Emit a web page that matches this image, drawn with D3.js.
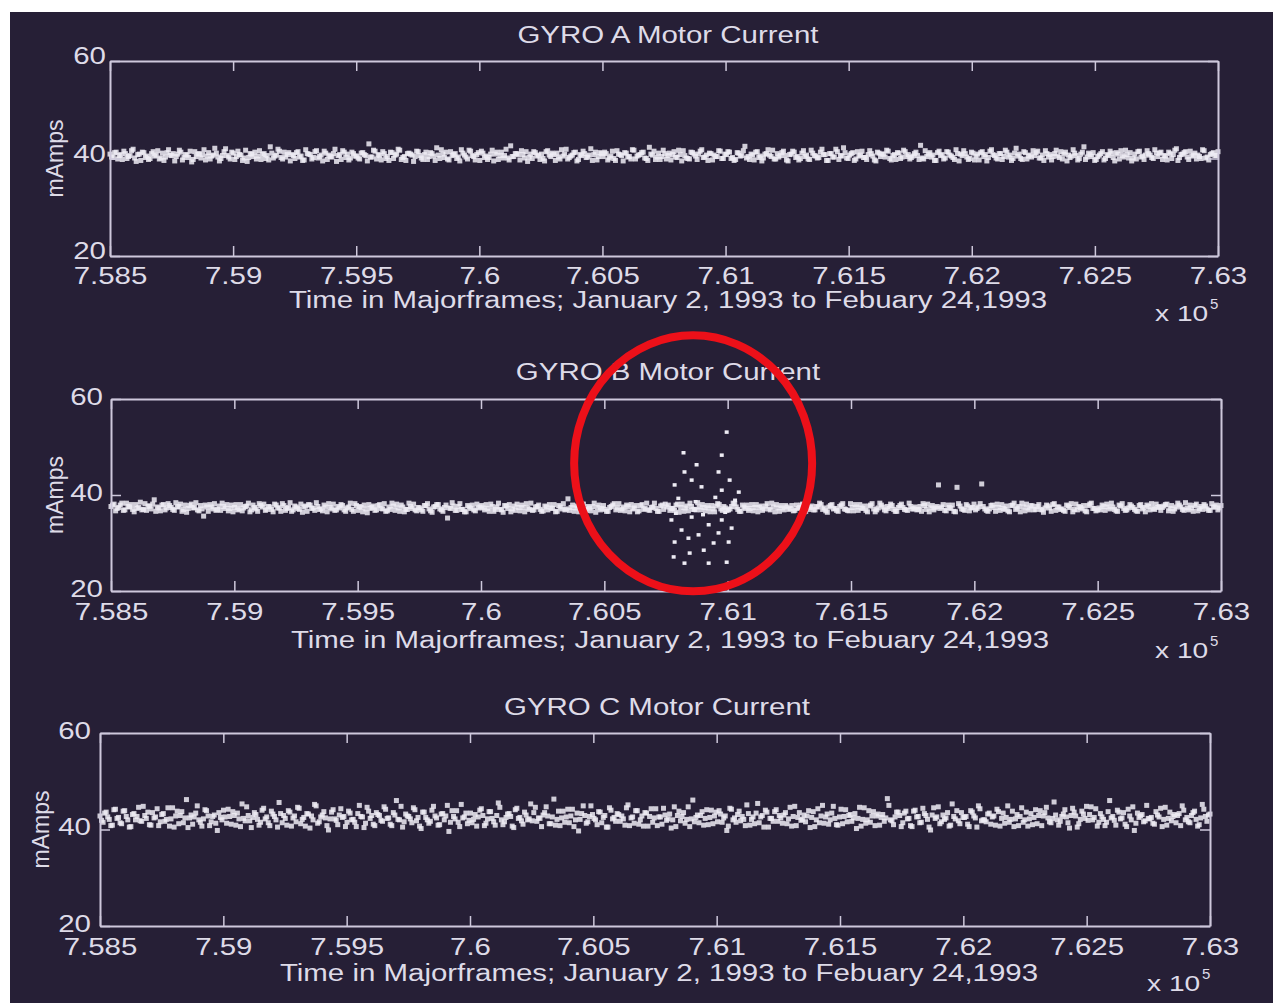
<!DOCTYPE html>
<html>
<head>
<meta charset="utf-8">
<script src="https://cdn.jsdelivr.net/npm/d3@7"></script>
<style>
  html, body { margin: 0; padding: 0; background: #ffffff; }
  svg { display: block; }
</style>
</head>
<body>
<svg id="chart" width="1284" height="1003"></svg>
<script>
// ---- data -------------------------------------------------------------
const titles = ["GYRO A Motor Current", "GYRO B Motor Current", "GYRO C Motor Current"];
const xLabel = "Time in Majorframes; January 2, 1993 to Febuary 24,1993";
const yLabel = "mAmps";
const xTicks = [7.585, 7.59, 7.595, 7.6, 7.605, 7.61, 7.615, 7.62, 7.625, 7.63];
const xTickLabels = ["7.585", "7.59", "7.595", "7.6", "7.605", "7.61", "7.615", "7.62", "7.625", "7.63"];
const yTicks = [20, 40, 60];
const yTickLabels = ["20", "40", "60"];
const tStart = 7.585, tEnd = 7.63;   // majorframes x 10^5

// Motor current samples (mAmps). Each gyro is read twice per frame slot:
// the "...Even" and "...Odd" lists hold the alternating readings.
const gyroAEven = [
40.9,40.2,41.3,40.6,39.8,41.0,40.4,41.6,40.1,40.8,39.6,41.2,40.5,40.0,41.4,40.7,39.9,41.1,40.3,41.8,
40.6,39.5,40.9,41.3,40.2,40.7,41.5,39.8,40.4,41.0,40.8,39.7,41.2,40.5,42.1,40.3,40.0,41.4,40.6,39.9,
41.1,40.4,40.8,39.6,41.7,40.2,40.9,41.3,40.5,39.8,41.0,40.6,42.4,40.1,40.7,41.5,39.9,40.3,41.2,40.8,
40.0,41.4,40.5,39.7,41.0,40.8,40.2,41.6,40.4,39.5,41.1,40.7,40.3,41.9,40.6,39.8,41.3,40.9,40.1,41.0,
40.5,39.9,41.2,40.6,43.0,40.3,41.5,40.8,39.7,41.0,40.4,41.3,40.0,40.9,41.7,40.2,39.6,41.1,40.7,40.4,
41.4,40.1,40.8,39.8,41.2,40.5,42.2,40.0,40.9,41.3,39.7,40.6,41.0,40.3,41.8,40.7,39.9,41.5,40.4,40.8,
39.6,41.1,40.5,40.2,41.7,40.9,39.8,41.3,40.6,40.1,42.6,40.4,41.0,39.7,40.8,41.4,40.3,40.0,41.2,40.7,
40.9,39.5,41.6,40.4,40.8,41.1,39.9,40.5,41.9,40.2,40.7,41.3,39.8,40.6,41.0,40.3,42.0,40.8,39.7,41.2,
40.4,41.0,40.1,41.5,39.6,40.9,40.6,41.2,40.3,39.9,41.7,40.5,40.8,41.3,40.0,42.3,40.7,39.8,41.1,40.4,
41.0,40.6,39.7,41.4,40.2,40.8,41.6,40.1,39.9,41.2,40.5,40.9,41.8,40.3,39.6,41.0,40.7,40.4,41.5,40.0,
40.8,41.3,40.2,39.8,41.1,40.6,42.5,40.4,40.9,39.7,41.4,40.5,40.1,41.0,40.7,41.7,39.9,40.3,41.2,40.6,
39.5,40.9,41.3,40.4,40.0,41.6,40.7,39.8,41.1,40.5,40.2,41.9,40.8,39.6,41.0,40.3,41.4,40.6,42.2,40.1,
40.7,41.2,39.9,40.5,41.5,40.2,40.8,41.0,39.7,41.3,40.4,40.9,41.7,40.0,40.6,39.8,41.1,40.3,41.4,40.8,
40.2,41.0,40.6,42.7,39.9,40.4,41.2,40.7,39.6,41.5,40.8,40.1,41.3,40.5,39.8,41.0,40.9,41.6,40.3,40.0,
41.1,40.5,39.7,41.4,40.8,40.2,41.8,40.6,39.9,41.0,40.4,41.3,40.7,40.0,42.1,40.9,39.8,41.2,40.5,40.3,
40.6,41.5,40.1,39.6,41.0,40.8,40.4,41.7,40.2,39.9,41.3,40.7,40.5,41.1,39.7,40.9,42.4,40.3,40.8,41.2,
39.8,40.7,41.4,40.0,40.6,41.1,39.5,40.9,41.6,40.3,40.8,41.2,40.1,39.9,41.5,40.5,40.7,41.0,40.2,41.8,
40.4,41.3,40.6,39.7,41.0,40.8,42.0,40.2,40.9,41.4,39.8,40.5,41.1,40.7,40.0,41.6,40.3,40.8,41.2,40.6
];
const gyroAOdd = [
40.3,41.2,39.9,40.8,41.5,40.0,40.6,41.9,39.4,40.9,41.3,40.2,39.8,41.0,40.5,41.6,40.1,39.6,41.2,40.7,
41.0,40.4,41.7,39.7,40.8,40.2,39.3,41.4,40.9,40.1,41.8,40.5,39.9,40.7,41.1,39.5,40.6,42.0,40.3,41.3,
39.8,41.5,40.7,40.1,39.4,41.0,40.4,39.9,41.6,40.8,40.0,39.7,41.1,40.5,41.9,40.2,41.3,40.8,39.5,40.6,
41.2,40.3,39.6,41.8,40.9,39.9,41.4,40.1,40.7,41.5,39.8,40.4,41.0,39.4,40.8,41.6,40.2,39.7,41.3,40.5,
40.1,41.1,40.8,39.5,40.3,41.7,39.9,40.6,41.4,40.0,39.6,41.2,40.7,41.9,39.8,40.4,41.0,40.9,39.4,41.5,
40.6,39.8,41.3,40.4,41.0,39.6,40.7,41.8,40.2,39.9,41.4,40.8,40.0,39.5,41.1,40.3,41.7,40.6,39.7,41.2,
41.5,40.2,39.8,40.9,39.5,41.3,40.6,40.1,41.9,39.7,40.4,41.0,40.8,41.6,40.1,39.4,40.9,41.4,40.5,39.8,
40.0,41.4,40.7,41.1,39.6,40.3,41.8,40.9,39.9,40.5,41.2,39.5,40.8,41.5,40.2,40.7,39.6,41.3,40.4,41.0,
41.3,39.7,40.5,40.0,41.6,40.8,39.5,41.1,40.4,41.8,39.9,40.7,41.2,40.1,39.6,40.9,41.5,40.3,39.8,41.7,
39.9,41.1,40.8,40.3,41.7,39.5,40.6,40.0,41.3,40.9,39.8,41.5,40.2,40.7,41.1,39.7,40.4,41.6,40.0,40.9,
41.4,40.0,39.6,41.2,40.5,41.6,40.1,39.8,40.7,41.3,40.2,39.5,40.9,41.8,40.4,39.9,41.0,40.6,41.5,39.7,
40.8,41.5,40.2,39.7,41.1,40.4,39.9,41.7,40.6,40.1,41.3,40.8,39.6,41.0,40.3,41.9,39.8,40.5,41.2,40.0,
41.0,39.6,41.4,40.7,40.2,39.8,41.6,40.5,39.5,41.1,40.9,40.3,41.5,39.7,40.8,41.2,40.0,41.7,40.4,39.9,
40.5,41.3,39.8,40.1,41.6,40.9,40.3,39.6,41.2,40.6,39.9,41.4,40.7,40.2,41.8,39.5,40.6,41.0,39.8,41.3,
39.7,40.9,41.2,40.4,39.5,41.5,40.8,40.1,41.0,39.8,41.7,40.3,39.6,41.1,40.5,40.0,41.4,39.9,40.7,41.6,
41.2,40.1,40.7,41.6,40.3,39.7,41.0,40.5,41.4,40.9,39.5,40.2,41.8,40.6,40.0,41.3,39.8,41.1,40.4,39.6,
40.4,41.0,39.7,40.8,41.5,40.2,41.2,39.9,40.6,41.7,40.1,39.5,40.9,41.4,40.3,39.8,41.6,40.7,40.0,41.1,
41.1,39.8,40.5,41.3,40.0,41.7,39.6,40.8,41.2,40.3,41.5,40.7,39.9,40.4,41.8,40.1,39.7,41.0,40.6,41.4
];

const gyroBEven = [
37.6,38.1,37.2,37.9,36.8,38.3,37.5,37.0,38.0,37.4,36.9,38.2,37.7,37.1,39.0,37.5,36.7,38.0,37.3,37.8,
37.0,38.4,37.6,36.6,37.9,37.2,38.1,37.4,36.9,37.8,35.6,37.5,38.0,37.1,36.8,37.7,38.3,37.2,36.7,37.9,
37.4,36.9,38.0,37.3,37.7,36.5,37.9,37.1,38.2,37.5,36.8,37.6,37.0,38.1,37.3,36.6,37.8,37.2,38.4,36.9,
37.5,37.0,36.4,37.7,38.0,37.2,36.8,37.6,37.1,37.9,36.5,37.4,38.1,36.9,37.3,37.8,36.6,37.5,37.0,38.2,
36.8,37.4,37.9,36.3,37.2,37.7,36.9,38.0,37.1,36.6,37.5,38.3,36.8,37.3,37.9,36.5,37.0,37.6,38.1,36.7,
37.3,36.6,37.8,37.1,36.4,37.6,38.0,36.9,37.4,35.2,37.2,37.7,36.8,38.2,37.0,36.5,37.5,37.9,36.7,37.3,
37.8,36.9,37.2,38.1,36.6,37.5,37.0,36.4,37.7,38.0,37.1,36.8,37.4,37.9,36.5,37.3,38.3,36.9,37.6,37.0,
36.7,37.5,38.0,37.2,36.5,37.8,37.1,36.9,39.2,37.4,36.6,37.7,37.0,38.1,36.8,37.3,37.6,36.4,37.9,37.2,
37.0,36.6,37.6,38.2,37.3,36.8,37.5,37.9,36.5,37.1,37.8,36.7,38.0,37.2,36.9,37.4,38.3,36.6,37.7,37.0,
37.5,36.8,37.2,37.9,36.4,38.1,37.3,36.7,37.6,37.0,38.4,36.9,37.4,37.8,36.5,37.1,37.7,38.0,36.8,37.3,
36.9,37.6,38.2,37.0,36.6,37.5,37.9,37.2,36.7,38.0,37.4,36.8,37.7,37.1,38.3,36.5,37.3,37.8,36.9,37.5,
37.2,36.7,37.9,37.4,38.1,36.6,37.0,37.7,36.9,37.5,38.0,37.3,36.4,37.8,37.1,36.8,37.6,38.2,37.0,36.7,
37.4,38.0,36.8,37.3,37.7,36.5,37.9,37.1,36.9,38.3,37.5,36.7,37.2,37.8,36.6,37.4,38.1,37.0,36.8,37.6,
37.1,36.9,37.6,38.2,37.0,36.5,37.8,37.3,42.1,37.5,36.8,37.9,37.2,36.6,41.6,37.7,37.0,38.0,36.7,37.4,
36.9,37.5,42.3,37.1,36.6,37.8,37.4,38.1,36.8,37.2,37.7,36.5,37.9,37.0,37.6,38.3,36.7,37.3,37.8,36.9,
37.6,37.0,36.4,37.9,37.3,38.0,36.8,37.5,37.1,36.6,37.7,38.2,37.0,36.9,37.4,37.8,36.5,38.1,37.2,36.7,
37.3,37.9,36.8,37.5,38.3,37.0,36.6,37.7,37.2,36.9,38.0,37.4,36.7,37.8,37.1,36.5,37.6,38.2,37.0,37.4,
36.8,37.7,38.1,37.2,36.6,37.5,37.9,37.0,38.4,36.9,37.3,37.8,36.7,37.6,38.0,37.1,36.8,37.5,37.9,37.3
];
const gyroBOdd = [
37.9,36.7,37.4,38.3,36.9,37.6,38.0,36.5,37.2,38.5,37.0,36.8,37.7,38.1,36.6,37.3,37.9,36.9,38.2,37.4,
36.8,37.5,38.1,37.0,36.4,37.8,37.3,38.4,36.7,37.1,37.9,36.6,37.5,38.2,37.0,36.8,37.6,38.0,37.2,36.5,
38.0,37.1,36.7,37.6,38.3,36.9,37.4,36.6,37.8,38.1,37.0,37.5,36.5,37.9,37.3,38.2,36.8,37.4,36.6,37.7,
37.2,38.1,37.5,36.6,37.9,37.3,38.4,37.0,36.7,37.5,38.2,37.1,36.8,37.6,38.0,36.9,37.3,38.3,36.6,37.8,
37.6,36.5,37.1,38.0,37.4,36.8,37.8,37.2,38.2,36.7,37.0,37.7,38.1,36.6,37.5,37.0,38.3,37.2,36.9,37.4,
36.9,37.8,38.2,36.7,37.5,38.0,37.1,36.6,37.9,37.3,38.4,36.8,37.6,37.0,36.5,37.8,37.2,36.9,38.1,37.5,
37.3,38.0,36.6,37.6,37.0,38.3,36.9,37.8,37.2,36.5,37.7,38.1,36.7,37.4,38.2,37.0,36.8,37.5,37.9,36.6,
37.7,36.9,37.3,38.0,36.6,37.5,38.2,37.1,36.8,37.9,37.3,36.5,38.1,37.0,37.6,36.7,38.3,37.4,36.9,37.8,
36.6,37.4,37.9,36.9,38.2,37.1,36.7,37.6,38.0,37.3,36.5,37.8,37.0,38.3,36.8,37.5,37.2,36.6,37.9,38.1,
37.9,37.2,36.8,38.1,37.4,36.6,37.7,38.3,37.0,36.9,37.5,38.0,36.7,37.3,37.8,36.5,38.2,37.1,37.6,36.8,
37.1,38.3,37.5,36.6,37.9,37.2,36.8,38.0,37.4,36.5,37.7,37.1,38.2,36.9,37.5,38.0,36.6,37.3,37.8,37.0,
37.8,36.8,37.2,37.9,36.5,38.1,37.4,36.9,37.6,38.3,37.0,36.7,37.5,38.0,37.2,36.6,37.9,37.1,36.8,38.2,
36.7,37.5,38.0,37.2,36.8,37.7,38.2,36.5,37.3,37.9,36.9,37.6,38.1,37.0,36.6,37.8,37.4,36.9,38.3,37.1,
37.5,37.0,36.6,37.8,38.1,37.3,36.9,37.6,37.2,38.0,36.7,37.4,37.9,36.5,38.2,37.1,36.8,37.7,37.3,38.1,
37.2,38.2,37.6,36.8,37.1,37.9,36.6,37.4,38.0,37.0,36.7,37.8,38.3,37.3,36.5,37.5,38.1,36.9,37.7,37.0,
38.0,36.9,37.3,37.7,36.6,38.2,37.5,37.0,36.8,37.9,37.4,36.5,38.1,37.6,37.1,36.7,37.8,38.3,37.2,36.9,
36.9,37.6,38.1,37.1,37.5,36.7,37.9,38.2,36.8,37.3,37.7,37.0,36.6,38.0,37.4,37.9,36.9,37.2,38.1,37.6,
37.4,38.0,36.7,37.8,37.1,38.3,37.5,36.8,37.3,37.9,36.6,38.1,37.2,37.0,37.7,36.8,38.2,37.5,36.9,37.8
];

// scattered readings of gyro B around 7.608-7.610 x 10^5
const gyroBBurstT = [
7.60996,7.60821,7.60976,7.60874,7.60963,7.60825,7.60854,7.61008,7.60785,7.60894,
7.60976,7.61045,7.60772,7.60854,7.60923,7.60976,7.60813,7.60882,7.60963,7.61016,
7.60785,7.60841,7.60943,7.61004,7.60903,7.60781,7.60846,7.60996,7.60923,7.60825,
7.60800,7.60870,7.60950,7.61030,7.60790,7.60900,7.60990
];
const gyroBBurstV = [
53.1,48.8,48.3,46.3,44.8,44.8,43.1,43.1,42.1,41.7,
41.0,40.6,34.8,35.4,33.8,34.8,32.7,31.7,32.1,33.1,
30.2,31.0,30.0,30.2,28.5,27.1,27.9,26.0,25.8,25.8,
39.3,38.6,39.5,38.9,36.2,35.9,36.4
];

const gyroCEven = [
42.8,41.5,43.6,42.1,40.9,44.2,42.5,41.2,43.9,42.0,40.6,43.3,42.7,41.8,44.8,42.3,41.0,43.5,42.6,40.8,
43.1,41.7,44.5,42.2,40.5,43.8,42.9,41.4,46.2,42.4,41.1,43.4,42.0,40.7,44.1,42.8,41.6,43.0,39.8,42.5,
44.0,41.3,42.7,43.7,40.9,42.2,45.3,41.8,42.9,40.4,43.5,42.1,41.5,44.4,42.6,40.8,43.2,42.0,45.6,41.4,
42.3,43.9,40.7,42.8,44.6,41.2,42.5,43.3,40.3,42.0,44.9,41.6,43.0,42.4,39.9,43.6,42.2,41.0,44.3,42.7,
41.5,43.4,42.1,40.6,45.0,42.6,41.3,43.8,42.9,40.8,43.1,41.9,44.7,42.3,41.1,43.5,46.0,42.0,40.5,43.2,
42.7,41.4,44.1,42.5,40.2,43.6,42.0,41.7,44.8,42.4,41.0,43.3,42.8,39.6,43.9,42.2,41.5,45.2,42.6,41.2,
43.4,42.1,40.7,44.0,42.9,41.3,43.7,42.3,40.9,45.5,42.0,41.6,43.2,42.7,40.4,44.4,42.5,41.1,43.0,42.2,
41.8,44.6,42.4,40.6,43.5,42.8,41.2,46.3,42.1,40.8,43.8,42.6,41.4,44.2,42.0,39.7,43.3,42.9,41.6,44.9,
42.3,41.0,43.6,42.5,40.5,44.5,42.2,41.7,43.1,42.8,40.9,45.1,42.4,41.3,43.9,42.0,40.7,43.4,42.7,41.5,
44.3,42.6,41.1,43.0,42.2,40.3,44.7,42.9,41.8,43.5,42.1,40.6,46.1,42.5,41.4,43.7,42.3,41.0,44.0,42.8,
41.6,43.2,42.4,39.8,44.4,42.0,41.5,43.8,42.7,40.8,43.3,42.1,41.2,45.4,42.6,40.5,43.6,42.3,41.7,44.1,
42.9,41.3,43.5,42.2,40.7,44.8,42.5,41.9,43.0,42.8,40.4,43.7,42.0,41.4,45.0,42.6,41.1,43.4,42.3,40.9,
44.2,42.7,41.6,43.1,42.4,40.2,44.6,42.1,41.3,43.9,42.8,40.8,43.2,42.5,41.7,46.4,42.0,41.0,43.6,42.9,
41.4,43.8,42.3,40.6,44.0,42.7,41.5,43.3,42.1,39.9,44.5,42.6,41.2,43.0,42.4,40.7,45.3,42.2,41.8,43.5,
42.5,41.1,43.9,42.8,40.5,44.3,42.0,41.6,43.4,42.6,40.9,43.7,42.3,41.3,44.9,42.1,40.6,43.1,42.7,41.5,
43.6,42.2,41.0,44.1,42.9,40.8,43.5,42.4,41.4,45.7,42.0,41.7,43.2,42.6,40.3,44.4,42.8,41.2,43.8,42.3,
41.9,44.7,42.5,40.7,43.3,42.1,41.5,46.0,42.7,40.9,43.6,42.4,41.1,44.2,42.0,39.8,43.4,42.8,41.6,45.0,
42.2,41.3,43.7,42.6,40.6,44.6,42.3,41.8,43.1,42.9,40.8,44.0,42.5,41.4,43.5,42.1,41.0,45.2,42.7,43.0
];
const gyroCOdd = [
41.9,43.4,42.6,40.8,44.1,42.3,41.4,43.8,42.7,40.5,43.1,42.0,44.6,41.7,42.9,43.6,40.9,42.4,44.3,41.6,
43.3,42.1,40.7,44.5,42.8,41.2,43.7,42.4,40.4,43.0,42.6,44.9,41.5,42.2,43.9,40.8,42.7,41.3,43.5,42.0,
42.6,44.2,41.1,42.9,43.4,40.6,42.3,44.7,41.8,42.5,43.1,40.9,44.0,42.2,41.4,43.8,42.7,40.5,43.3,42.9,
40.9,43.6,42.4,41.6,44.4,42.1,40.7,43.2,42.8,45.2,41.3,42.6,43.7,40.8,42.2,44.1,41.9,43.0,42.5,40.6,
43.8,42.0,41.5,43.3,42.7,40.4,44.6,42.3,41.1,43.5,42.9,41.7,44.2,42.4,40.8,43.0,42.1,44.8,41.6,42.8,
42.2,44.5,41.8,40.7,43.6,42.5,41.3,44.0,42.8,40.9,43.2,42.0,45.0,41.5,42.7,43.9,40.6,42.4,43.4,41.9,
41.4,43.1,42.6,44.3,40.8,42.2,43.7,41.6,42.9,44.6,41.0,42.5,43.3,40.7,44.1,42.3,41.8,43.6,42.0,45.3,
43.5,41.7,42.3,43.0,44.7,41.2,42.6,40.9,43.8,42.4,41.5,44.2,42.8,40.6,43.4,42.1,44.9,41.3,42.7,43.1,
42.0,43.7,41.4,42.9,40.5,44.0,42.5,43.3,41.7,42.2,44.5,40.8,42.6,43.9,41.1,42.8,43.5,40.7,44.3,42.4,
40.8,42.6,44.4,41.9,43.2,42.0,40.6,43.8,42.7,41.3,44.7,42.2,41.6,43.0,42.9,40.9,44.1,42.5,41.2,43.6,
43.9,41.5,42.8,40.7,44.2,42.4,43.1,41.8,42.1,45.1,40.9,42.6,43.4,41.4,42.9,44.0,40.5,42.3,43.7,41.7,
42.4,43.0,41.2,44.6,42.7,40.8,43.5,42.1,41.6,43.9,42.5,40.6,44.3,42.8,41.3,43.2,42.0,44.8,41.0,42.6,
41.2,44.1,42.9,41.7,43.3,42.3,40.7,44.5,42.0,41.5,43.7,42.8,40.9,43.1,42.4,45.0,41.8,42.6,43.6,40.6,
43.4,42.2,40.8,43.8,42.6,41.4,44.4,42.9,40.5,43.0,42.3,44.7,41.6,42.1,43.5,40.9,42.7,43.9,41.2,42.5,
42.7,40.6,43.6,42.4,44.9,41.8,42.0,43.2,41.1,42.8,44.2,40.7,43.4,42.5,41.5,43.8,42.2,40.8,44.5,42.0,
40.7,43.3,42.5,41.2,43.9,42.8,44.6,41.6,42.3,43.0,40.9,42.7,44.1,41.4,42.9,43.6,40.5,42.1,43.2,44.8,
43.1,42.0,44.3,41.5,42.6,40.8,43.7,42.4,41.9,44.0,42.2,43.5,40.6,42.8,44.7,41.3,42.5,43.1,41.8,42.3,
42.5,41.1,43.0,44.4,42.1,40.9,43.6,42.7,41.4,43.3,44.9,42.0,41.6,42.9,43.8,40.7,42.4,44.2,41.7,43.2
];

// ---- drawing ----------------------------------------------------------
const FONT = "'Liberation Sans', Arial, Helvetica, sans-serif";
const INK = "#dedbe8";
const AXIS = "#cec8dc";
const DOT = "#eeecf4";
const WIDE = 1.28;   // horizontally widened lettering

function widen(sel, k) {
  sel.each(function () {
    const w = this.getComputedTextLength();
    if (w > 0) {
      this.setAttribute("textLength", (w * k).toFixed(1));
      this.setAttribute("lengthAdjust", "spacingAndGlyphs");
    }
  });
}

// alternate the two readings of each slot into one time-ordered series
function interleave(even, odd) {
  return d3.merge(d3.zip(even, odd));
}

const svg = d3.select("#chart");

svg.append("rect")
  .attr("x", 10).attr("y", 12)
  .attr("width", 1263).attr("height", 991)
  .attr("fill", "#261f36");

const panels = [
  { title: titles[0], values: interleave(gyroAEven, gyroAOdd), left: 110, right: 1218, top: 61, bottom: 256,
    titleX: 668, titleY: 43, tickPad: 12, yPad: 4, yDy: "0.12em", xlabY: 308, expX: 1155, expY: 321, ylabX: 55 },
  { title: titles[1], values: interleave(gyroBEven, gyroBOdd), left: 111, right: 1221, top: 399, bottom: 591,
    titleX: 668, titleY: 380, tickPad: 13, yPad: 8, yDy: "0.22em", xlabY: 648, expX: 1155, expY: 658, ylabX: 55,
    burstT: gyroBBurstT, burstV: gyroBBurstV },
  { title: titles[2], values: interleave(gyroCEven, gyroCOdd), left: 100, right: 1210, top: 733, bottom: 926,
    titleX: 657, titleY: 715, tickPad: 13, yPad: 9, yDy: "0.22em", xlabY: 981, expX: 1147, expY: 991, ylabX: 41 }
];

const scalesB = {};

panels.forEach((p, k) => {
  const g = svg.append("g");
  const x = d3.scaleLinear().domain([tStart, tEnd]).range([p.left, p.right]);
  const y = d3.scaleLinear().domain([20, 60]).range([p.bottom, p.top]);
  if (k === 1) { scalesB.x = x; scalesB.y = y; }

  const n = p.values.length;
  const times = p.values.map((v, i) => tStart + i * (tEnd - tStart) / (n - 1));

  // samples
  const marks = g.append("g").attr("fill", DOT);
  marks.selectAll("rect.s")
    .data(p.values)
    .join("rect")
    .attr("class", "s")
    .attr("x", (d, i) => x(times[i]) - 2.5)
    .attr("y", d => y(d) - 2.5)
    .attr("width", 5)
    .attr("height", 5)
    .attr("opacity", 0.85);

  if (p.burstT) {
    marks.selectAll("rect.b")
      .data(p.burstV)
      .join("rect")
      .attr("class", "b")
      .attr("x", (d, i) => x(p.burstT[i]) - 2)
      .attr("y", d => y(d) - 1.75)
      .attr("width", 4)
      .attr("height", 3.5);
  }

  // axes (MATLAB style box with inward ticks)
  const fmtX = d => xTickLabels[xTicks.indexOf(d)];
  const fmtY = d => yTickLabels[yTicks.indexOf(d)];

  const gb = g.append("g").attr("transform", `translate(0,${p.bottom})`)
    .call(d3.axisBottom(x).tickValues(xTicks).tickFormat(fmtX)
      .tickSizeInner(-10).tickSizeOuter(0).tickPadding(p.tickPad));
  const gt = g.append("g").attr("transform", `translate(0,${p.top})`)
    .call(d3.axisTop(x).tickValues(xTicks).tickFormat("")
      .tickSizeInner(-10).tickSizeOuter(0));
  const gl = g.append("g").attr("transform", `translate(${p.left},0)`)
    .call(d3.axisLeft(y).tickValues(yTicks).tickFormat(fmtY)
      .tickSizeInner(-10).tickSizeOuter(0).tickPadding(p.yPad));
  const gr = g.append("g").attr("transform", `translate(${p.right},0)`)
    .call(d3.axisRight(y).tickValues(yTicks).tickFormat("")
      .tickSizeInner(-10).tickSizeOuter(0));

  [gb, gt, gl, gr].forEach(a => {
    a.select(".domain").attr("stroke", AXIS).attr("stroke-width", 2);
    a.selectAll(".tick line").attr("stroke", AXIS).attr("stroke-width", 1.5);
    a.selectAll(".tick text")
      .attr("fill", INK)
      .style("font-family", FONT)
      .style("font-size", "23px");
  });
  gl.selectAll(".tick text").attr("dy", p.yDy);
  widen(gb.selectAll(".tick text"), WIDE);
  widen(gl.selectAll(".tick text"), WIDE);

  // title
  g.append("text")
    .attr("x", p.titleX).attr("y", p.titleY)
    .attr("text-anchor", "middle")
    .attr("fill", INK)
    .style("font-family", FONT).style("font-size", "23px")
    .text(p.title)
    .call(widen, WIDE);

  // x label
  g.append("text")
    .attr("x", (p.left + p.right) / 2 + 4).attr("y", p.xlabY)
    .attr("text-anchor", "middle")
    .attr("fill", INK)
    .style("font-family", FONT).style("font-size", "23px")
    .text(xLabel)
    .call(widen, WIDE);

  // x 10^5 multiplier
  g.append("text")
    .attr("x", p.expX).attr("y", p.expY)
    .attr("fill", INK)
    .style("font-family", FONT).style("font-size", "22px")
    .text("x 10")
    .call(widen, WIDE);
  g.append("text")
    .attr("x", p.expX + 55).attr("y", p.expY - 12)
    .attr("fill", INK)
    .style("font-family", FONT).style("font-size", "15px")
    .text("5");

  // y label
  g.append("text")
    .attr("transform", `translate(${p.ylabX},${(p.top + p.bottom) / 2}) rotate(-90)`)
    .attr("text-anchor", "middle")
    .attr("dy", "0.35em")
    .attr("fill", INK)
    .style("font-family", FONT).style("font-size", "23px")
    .text(yLabel);
});

// red ring highlighting the gyro B excursion
svg.append("ellipse")
  .attr("cx", scalesB.x(7.6086))
  .attr("cy", scalesB.y(46.6))
  .attr("rx", 119)
  .attr("ry", 128)
  .attr("fill", "none")
  .attr("stroke", "#ec1019")
  .attr("stroke-width", 8);
</script>
</body>
</html>
